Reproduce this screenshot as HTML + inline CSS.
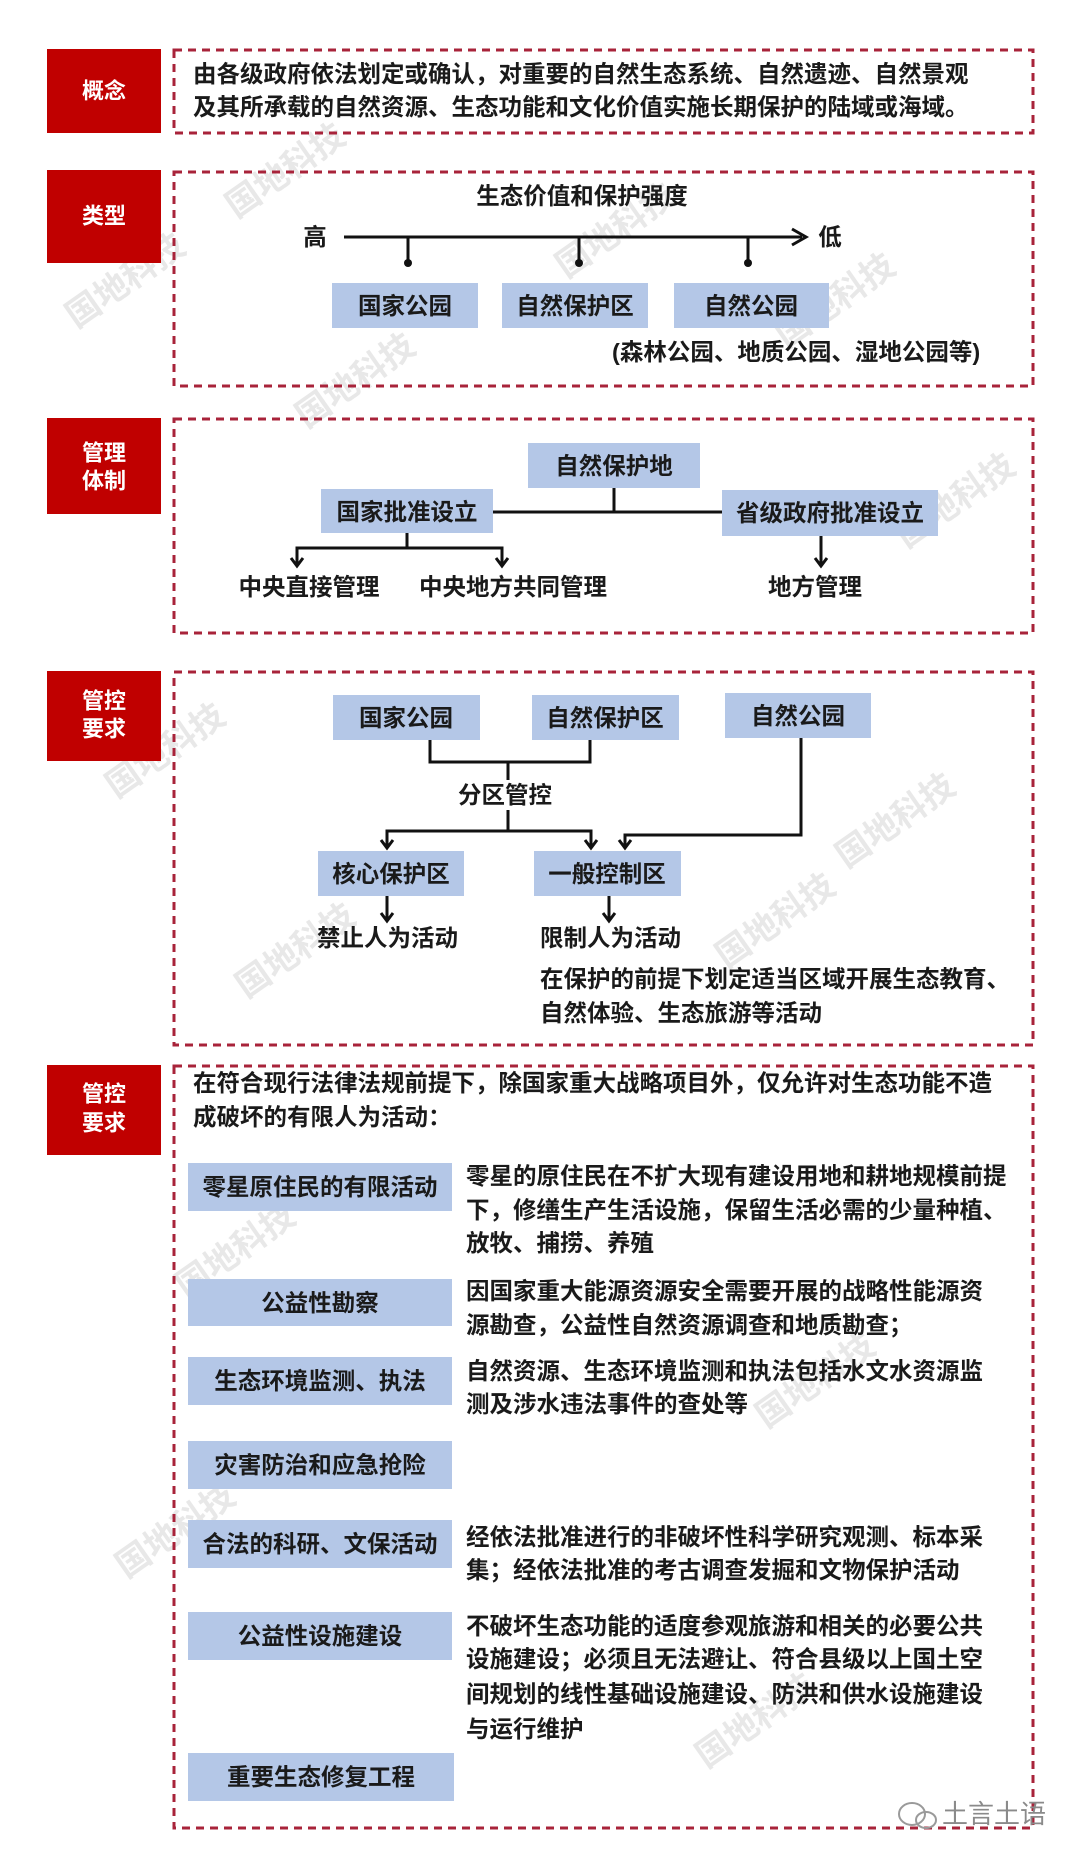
<!DOCTYPE html>
<html><head><meta charset="utf-8"><style>
html,body{margin:0;padding:0;background:#fff;}
svg{display:block;}
text{font-family:"Liberation Sans","Noto Sans CJK SC",sans-serif;font-weight:bold;fill:#1a1a1a;dominant-baseline:central;}
.lab{fill:#fff;font-size:22px;text-anchor:middle;}
.t{font-size:23.5px;}
.c{text-anchor:middle;}
.box{fill:#b4c7e7;}
.red{fill:#c00000;}
.dash{fill:none;stroke:#a8233a;stroke-width:3;stroke-dasharray:8 6;}
.ln{stroke:#111;stroke-width:3;fill:none;}
</style></head><body>
<svg width="1080" height="1860" viewBox="0 0 1080 1860" xmlns="http://www.w3.org/2000/svg">

<!-- faint watermarks -->
<g style="font-size:34px" font-weight="normal">
<text x="230" y="210" transform="rotate(-35 230 210)" style="fill:#e8e8e8">国地科技</text>
<text x="70" y="320" transform="rotate(-35 70 320)" style="fill:#e8e8e8">国地科技</text>
<text x="560" y="270" transform="rotate(-35 560 270)" style="fill:#e8e8e8">国地科技</text>
<text x="780" y="340" transform="rotate(-35 780 340)" style="fill:#e8e8e8">国地科技</text>
<text x="300" y="420" transform="rotate(-35 300 420)" style="fill:#e8e8e8">国地科技</text>
<text x="900" y="540" transform="rotate(-35 900 540)" style="fill:#e8e8e8">国地科技</text>
<text x="110" y="790" transform="rotate(-35 110 790)" style="fill:#e8e8e8">国地科技</text>
<text x="840" y="860" transform="rotate(-35 840 860)" style="fill:#e8e8e8">国地科技</text>
<text x="240" y="990" transform="rotate(-35 240 990)" style="fill:#e8e8e8">国地科技</text>
<text x="720" y="960" transform="rotate(-35 720 960)" style="fill:#e8e8e8">国地科技</text>
<text x="180" y="1290" transform="rotate(-35 180 1290)" style="fill:#e8e8e8">国地科技</text>
<text x="760" y="1420" transform="rotate(-35 760 1420)" style="fill:#e8e8e8">国地科技</text>
<text x="120" y="1570" transform="rotate(-35 120 1570)" style="fill:#e8e8e8">国地科技</text>
<text x="700" y="1760" transform="rotate(-35 700 1760)" style="fill:#e8e8e8">国地科技</text>
</g>

<!-- Section 1 -->
<rect class="red" x="47" y="49" width="114" height="84"/>
<text class="lab" x="104" y="91">概念</text>
<rect class="dash" x="174" y="50" width="859" height="83"/>
<text class="t" x="193" y="74">由各级政府依法划定或确认，对重要的自然生态系统、自然遗迹、自然景观</text>
<text class="t" x="193" y="107">及其所承载的自然资源、生态功能和文化价值实施长期保护的陆域或海域。</text>

<!-- Section 2 -->
<rect class="red" x="47" y="170" width="114" height="93"/>
<text class="lab" x="104" y="216">类型</text>
<rect class="dash" x="174" y="172" width="859" height="214"/>
<text class="t c" x="582" y="196">生态价值和保护强度</text>
<text class="t c" x="315" y="237">高</text>
<text class="t c" x="830" y="237">低</text>
<line class="ln" x1="344" y1="237" x2="802" y2="237"/>
<path d="M792 229 L806 237 L792 245" class="ln"/>
<g class="ln"><line x1="408" y1="237" x2="408" y2="262"/><line x1="579" y1="237" x2="579" y2="262"/><line x1="748" y1="237" x2="748" y2="262"/></g>
<circle cx="408" cy="263" r="4" fill="#111"/><circle cx="579" cy="263" r="4" fill="#111"/><circle cx="748" cy="263" r="4" fill="#111"/>
<rect class="box" x="332" y="283" width="146" height="45"/>
<rect class="box" x="502" y="283" width="146" height="45"/>
<rect class="box" x="674" y="283" width="155" height="45"/>
<text class="t c" x="405" y="306">国家公园</text>
<text class="t c" x="575" y="306">自然保护区</text>
<text class="t c" x="751" y="306">自然公园</text>
<text class="t" x="612" y="352">(森林公园、地质公园、湿地公园等)</text>

<!-- Section 3 -->
<rect class="red" x="47" y="418" width="114" height="96"/>
<text class="lab" x="104" y="453">管理</text>
<text class="lab" x="104" y="481">体制</text>
<rect class="dash" x="174" y="419" width="859" height="214"/>
<rect class="box" x="528" y="443" width="172" height="45"/>
<text class="t c" x="614" y="466">自然保护地</text>
<rect class="box" x="321" y="489" width="172" height="44"/>
<text class="t c" x="407" y="512">国家批准设立</text>
<rect class="box" x="722" y="490" width="216" height="46"/>
<text class="t c" x="830" y="513">省级政府批准设立</text>
<line class="ln" x1="493" y1="512" x2="722" y2="512"/>
<line class="ln" x1="614" y1="488" x2="614" y2="512"/>
<line class="ln" x1="407" y1="533" x2="407" y2="548"/>
<path class="ln" d="M297 565 L297 548 L502 548 L502 565"/>
<path class="ln" d="M291 558 L297 566 L303 558 M496 558 L502 566 L508 558"/>
<line class="ln" x1="821" y1="536" x2="821" y2="565"/>
<path class="ln" d="M815 558 L821 566 L827 558"/>
<text class="t c" x="309" y="587">中央直接管理</text>
<text class="t c" x="513" y="587">中央地方共同管理</text>
<text class="t c" x="815" y="587">地方管理</text>

<!-- Section 4 -->
<rect class="red" x="47" y="671" width="114" height="90"/>
<text class="lab" x="104" y="701">管控</text>
<text class="lab" x="104" y="729">要求</text>
<rect class="dash" x="174" y="672" width="859" height="373"/>
<rect class="box" x="333" y="695" width="147" height="45"/>
<text class="t c" x="406" y="718">国家公园</text>
<rect class="box" x="532" y="695" width="147" height="45"/>
<text class="t c" x="605" y="718">自然保护区</text>
<rect class="box" x="725" y="693" width="146" height="45"/>
<text class="t c" x="798" y="716">自然公园</text>
<path class="ln" d="M430 740 L430 762 L590 762 L590 740"/>
<line class="ln" x1="508" y1="762" x2="508" y2="780"/>
<text class="t c" x="505" y="795">分区管控</text>
<line class="ln" x1="508" y1="810" x2="508" y2="831"/>
<path class="ln" d="M387 847 L387 831 L591 831 L591 847"/>
<path class="ln" d="M801 738 L801 835 L625 835 L625 847"/>
<path class="ln" d="M381 840 L387 848 L393 840 M585 840 L591 848 L597 840 M619 840 L625 848 L631 840"/>
<rect class="box" x="318" y="851" width="146" height="45"/>
<text class="t c" x="391" y="874">核心保护区</text>
<rect class="box" x="534" y="851" width="147" height="45"/>
<text class="t c" x="607" y="874">一般控制区</text>
<line class="ln" x1="387" y1="896" x2="387" y2="920"/>
<line class="ln" x1="609" y1="896" x2="609" y2="920"/>
<path class="ln" d="M381 913 L387 921 L393 913 M603 913 L609 921 L615 913"/>
<text class="t" x="317" y="938">禁止人为活动</text>
<text class="t" x="540" y="938">限制人为活动</text>
<text class="t" x="540" y="979">在保护的前提下划定适当区域开展生态教育、</text>
<text class="t" x="540" y="1013">自然体验、生态旅游等活动</text>

<!-- Section 5 -->
<rect class="red" x="47" y="1065" width="114" height="90"/>
<text class="lab" x="104" y="1094">管控</text>
<text class="lab" x="104" y="1123">要求</text>
<rect class="dash" x="174" y="1066" width="859" height="762"/>
<text class="t" x="193" y="1083">在符合现行法律法规前提下，除国家重大战略项目外，仅允许对生态功能不造</text>
<text class="t" x="193" y="1117">成破坏的有限人为活动：</text>

<g class="box">
<rect x="188" y="1163" width="264" height="48"/>
<rect x="188" y="1279" width="264" height="47"/>
<rect x="188" y="1357" width="264" height="48"/>
<rect x="188" y="1441" width="264" height="48"/>
<rect x="188" y="1520" width="264" height="48"/>
<rect x="188" y="1612" width="264" height="48"/>
<rect x="188" y="1753" width="266" height="48"/>
</g>
<text class="t c" x="320" y="1187">零星原住民的有限活动</text>
<text class="t c" x="320" y="1303">公益性勘察</text>
<text class="t c" x="320" y="1381">生态环境监测、执法</text>
<text class="t c" x="320" y="1465">灾害防治和应急抢险</text>
<text class="t c" x="320" y="1544">合法的科研、文保活动</text>
<text class="t c" x="320" y="1636">公益性设施建设</text>
<text class="t c" x="321" y="1777">重要生态修复工程</text>

<text class="t" x="466" y="1176">零星的原住民在不扩大现有建设用地和耕地规模前提</text>
<text class="t" x="466" y="1210">下，修缮生产生活设施，保留生活必需的少量种植、</text>
<text class="t" x="466" y="1243">放牧、捕捞、养殖</text>
<text class="t" x="466" y="1291">因国家重大能源资源安全需要开展的战略性能源资</text>
<text class="t" x="466" y="1325">源勘查，公益性自然资源调查和地质勘查；</text>
<text class="t" x="466" y="1371">自然资源、生态环境监测和执法包括水文水资源监</text>
<text class="t" x="466" y="1404">测及涉水违法事件的查处等</text>
<text class="t" x="466" y="1537">经依法批准进行的非破坏性科学研究观测、标本采</text>
<text class="t" x="466" y="1570">集；经依法批准的考古调查发掘和文物保护活动</text>
<text class="t" x="466" y="1626">不破坏生态功能的适度参观旅游和相关的必要公共</text>
<text class="t" x="466" y="1659">设施建设；必须且无法避让、符合县级以上国土空</text>
<text class="t" x="466" y="1694">间规划的线性基础设施建设、防洪和供水设施建设</text>
<text class="t" x="466" y="1729">与运行维护</text>

<!-- bottom brand -->
<ellipse cx="912" cy="1814" rx="13" ry="11" fill="none" stroke="#9a9a9a" stroke-width="2"/>
<ellipse cx="926" cy="1820" rx="10" ry="8" fill="none" stroke="#9a9a9a" stroke-width="2"/>
<text x="942" y="1814" style="font-size:26px;fill:#8a8a8a;font-weight:normal">土言土语</text>
</svg>
</body></html>
